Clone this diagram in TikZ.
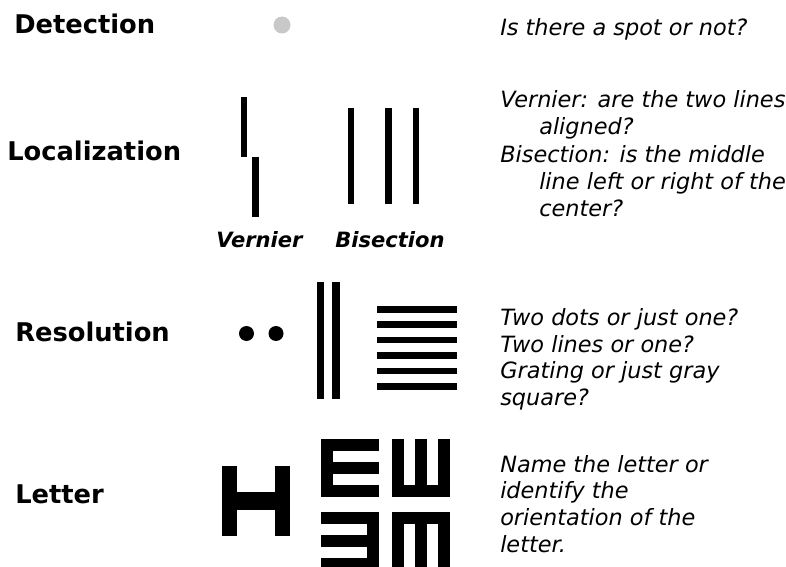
\documentclass[tikz,border=0pt]{standalone}
\usepackage{fontspec}
\setmainfont{DejaVu Sans}[
  BoldFont={DejaVu Sans Bold},
  ItalicFont={DejaVu Sans Oblique},
  BoldItalicFont={DejaVu Sans Bold Oblique}]
\definecolor{spotgray}{RGB}{200,200,200}
\begin{document}
\begin{tikzpicture}[x=0.75pt,y=-0.75pt,
  rowlabel/.style={font=\fontsize{19.3}{23}\selectfont\bfseries, anchor=base west, inner sep=0pt},
  desc/.style={font=\fontsize{16.8}{20}\selectfont\itshape, anchor=base west, inner sep=0pt},
  sublabel/.style={font=\fontsize{15.8}{19}\selectfont\bfseries\itshape, anchor=base west, inner sep=0pt},
  bar/.style={fill=black, draw=none}]
\useasboundingbox (0,0) rectangle (786,567);

% ---- Row 1: detection ----
\node[rowlabel] (detlabel) at (14,34) {Detection};
\fill[spotgray] (282,25) circle (8.5);
\node[desc] (detq) at (500,36) {Is there a spot or not?};

% ---- Row 2: localization ----
\node[rowlabel] (loclabel) at (7,161) {Localization};
% vernier pair
\fill[bar] (241,97) rectangle (247,157);
\fill[bar] (252,157) rectangle (259,217);
% bisection triplet
\fill[bar] (348,108) rectangle (354,204);
\fill[bar] (385,108) rectangle (392,204);
\fill[bar] (413,108) rectangle (419,204);
\node[sublabel] (vernlabel) at (216,247) {Vernier};
\node[sublabel] (bislabel) at (335,247) {Bisection};
\node[desc] (locqa) at (500,108) {Vernier: are the two lines};
\node[desc] (locqb) at (539,135) {aligned?};
\node[desc] (locqc) at (500,162) {Bisection: is the middle};
\node[desc] (locqd) at (539,189) {line left or right of the};
\node[desc] (locqe) at (539,216) {center?};

% ---- Row 3: resolution ----
\node[rowlabel] (reslabel) at (15,341) {Resolution};
\fill[black] (246.5,333.5) circle (7.5);
\fill[black] (276,333.5) circle (7.5);
\fill[bar] (317,282) rectangle (324,399);
\fill[bar] (332,282) rectangle (340,399);
\foreach \k in {0,...,5}
  \fill[bar] (377,306+15.4*\k) rectangle (457,312.5+15.4*\k);
\node[desc] (resqa) at (500,325) {Two dots or just one?};
\node[desc] (resqb) at (500,352) {Two lines or one?};
\node[desc] (resqc) at (500,378) {Grating or just gray};
\node[desc] (resqd) at (500,405) {square?};

% ---- Row 4: letter ----
\node[rowlabel] (letlabel) at (15,503) {Letter};
% H
\fill[bar] (222,466) rectangle (237,536);
\fill[bar] (275,466) rectangle (290,536);
\fill[bar] (236,492) rectangle (276,510);
% tumbling E, prongs right
\begin{scope}[shift={(321,439)}, x=8.7pt, y=-8.7pt]
  \fill[bar] (0,0) rectangle (1,5);
  \fill[bar] (0,0) rectangle (5,1);
  \fill[bar] (0,2) rectangle (5,3);
  \fill[bar] (0,4) rectangle (5,5);
\end{scope}
% tumbling E, prongs up
\begin{scope}[shift={(392,439)}, x=8.7pt, y=-8.7pt]
  \fill[bar] (0,4) rectangle (5,5);
  \fill[bar] (0,0) rectangle (1,5);
  \fill[bar] (2,0) rectangle (3,5);
  \fill[bar] (4,0) rectangle (5,5);
\end{scope}
% tumbling E, prongs left
\begin{scope}[shift={(321,512)}, x=8.7pt, y=-8.7pt]
  \fill[bar] (4,0) rectangle (5,5);
  \fill[bar] (0,0) rectangle (5,1);
  \fill[bar] (0,2) rectangle (5,3);
  \fill[bar] (0,4) rectangle (5,5);
\end{scope}
% tumbling E, prongs down
\begin{scope}[shift={(392,512)}, x=8.7pt, y=-8.7pt]
  \fill[bar] (0,0) rectangle (5,1);
  \fill[bar] (0,0) rectangle (1,5);
  \fill[bar] (2,0) rectangle (3,5);
  \fill[bar] (4,0) rectangle (5,5);
\end{scope}
\node[desc] (letqa) at (500,472) {Name the letter or};
\node[desc] (letqb) at (500,498) {identify the};
\node[desc] (letqc) at (500,525) {orientation of the};
\node[desc] (letqd) at (500,552) {letter.};
\end{tikzpicture}
\end{document}
